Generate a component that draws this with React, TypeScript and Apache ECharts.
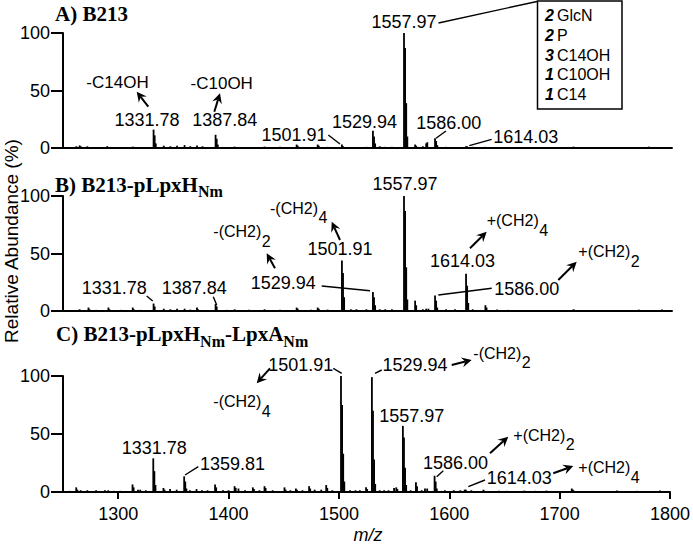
import React, { useEffect, useRef } from "react";
import * as echarts from "echarts";

// ---------- DATA ----------
const xTickValues = [1300, 1400, 1500, 1600, 1700, 1800];
const xMin = 1250;
const xMax = 1800;

// [m/z, relative abundance %]
const peaksA: [number, number][] = [
  [1256, 0.8], [1262, 1.5], [1265, 2.2], [1266, 1.5], [1272, 1.5], [1280, 0.8], [1290, 1.6], [1301, 0.8],
  [1313, 1.2], [1320, 0.8], [1331.8, 16], [1332.8, 11], [1333.8, 4], [1341, 2], [1347, 1.5], [1353, 2],
  [1359.8, 2.5], [1365, 1.5], [1371, 2.2], [1376, 1.5], [1387.8, 11.5], [1388.8, 8], [1389.8, 3], [1398, 0.8],
  [1405, 1.2], [1418, 0.8], [1432, 1.2], [1446, 1], [1461, 3], [1462, 2], [1474, 0.8], [1480, 3], [1481, 2],
  [1489, 1], [1501.9, 3], [1502.9, 1.5], [1515, 0.8], [1524, 1], [1529.9, 15], [1530.9, 10], [1531.9, 4],
  [1536, 1.5], [1541, 1], [1547, 1], [1557.97, 100], [1558.97, 87], [1559.97, 39], [1560.97, 10],
  [1568, 3], [1569, 2], [1575, 1.5], [1578, 4], [1579, 5], [1586, 8.5], [1587, 6], [1588, 2.5], [1596, 1],
  [1604, 0.8], [1614, 1.5], [1615, 1.5], [1620, 1], [1631, 1], [1645, 0.6], [1660, 0.6], [1680, 0.6],
  [1711, 1.2], [1712, 0.8], [1740, 0.5], [1760, 0.5], [1779, 1.2], [1790, 0.5],
];

const peaksB: [number, number][] = [
  [1256, 0.8], [1265, 1.5], [1273, 3], [1274, 1.5], [1280, 1], [1291, 3], [1292, 1.5], [1302, 1], [1313, 3],
  [1314, 1.5], [1320, 1], [1331.8, 6.5], [1332.8, 4], [1341, 2], [1347, 1.5], [1353, 2], [1359.8, 2],
  [1365, 1.2], [1371, 3], [1372, 1.5], [1387.8, 6], [1388.8, 4], [1398, 1], [1405, 1.5], [1418, 1],
  [1432, 1.5], [1446, 1], [1461, 3], [1462, 2], [1474, 1], [1480, 3], [1481, 2], [1489, 1.2],
  [1501.9, 44], [1502.9, 33], [1503.9, 12], [1510, 1.5], [1515, 1.5], [1524, 1.5], [1529.9, 16.5],
  [1530.9, 12], [1531.9, 5], [1536, 1.5], [1541, 1.5], [1547, 1.5], [1557.97, 100], [1558.97, 87],
  [1559.97, 38], [1560.97, 10], [1568, 9], [1569, 5], [1575, 1.5], [1578, 2], [1580, 2], [1586, 13.5],
  [1587, 9], [1588, 3], [1596, 1.5], [1604, 1.5], [1614, 32.5], [1615, 22], [1616, 7], [1620, 1.5],
  [1631.5, 5], [1632.5, 3], [1642, 1.2], [1652, 1], [1660, 0.8], [1680, 0.8], [1711, 1.5], [1712, 1],
  [1740, 0.6], [1770, 1.2], [1779, 0.8], [1791, 1.2],
];

const peaksC: [number, number][] = [
  [1256, 1], [1262, 4], [1263, 2], [1266, 1.5], [1272, 1.5], [1280, 1.5], [1288, 1.5], [1291, 1.5],
  [1296, 1], [1302, 1], [1313, 6.5], [1314, 4], [1318, 2], [1320, 2], [1325, 1.5], [1331.8, 29],
  [1332.8, 18], [1333.8, 6], [1341, 3.5], [1342, 2], [1347, 2.5], [1353, 2], [1359.8, 13.5], [1360.8, 9],
  [1361.8, 3], [1365, 1.5], [1371, 2.5], [1376, 1.5], [1381, 1.5], [1387.8, 6.5], [1388.8, 4], [1395, 1.5],
  [1400, 1.5], [1405.5, 5], [1406.5, 3.5], [1409, 3], [1415, 1.5], [1422, 4], [1423, 2.5], [1428, 1.5],
  [1432.6, 5], [1433.6, 3.5], [1440, 1.5], [1450.7, 4], [1451.7, 2], [1456, 1.5], [1461, 3], [1462, 2],
  [1467, 1.5], [1473, 5], [1474, 3], [1478, 2], [1484, 2], [1488.5, 6], [1489.5, 3.5], [1494, 1.5],
  [1501.9, 100], [1502.9, 75], [1503.9, 33], [1504.9, 9], [1510, 1.5], [1515, 1.5], [1519, 1.5],
  [1524.6, 4], [1525.6, 2.5], [1529.9, 99], [1530.9, 70], [1531.9, 28], [1532.9, 7], [1537, 1.5],
  [1541, 1.5], [1545, 1.5], [1550, 3.5], [1552, 4], [1553, 2.5], [1557.97, 57], [1558.97, 47],
  [1559.97, 21], [1560.97, 6], [1565, 1.5], [1569.8, 8.5], [1570.8, 5], [1575, 1.5], [1578, 3], [1580, 3],
  [1586.7, 14], [1587.7, 9], [1588.7, 3], [1596, 1.5], [1604, 1.5], [1610, 1.5], [1614, 2], [1615, 2],
  [1620, 1.5], [1631, 2], [1632, 1], [1645, 1], [1652, 1], [1668, 1.2], [1678, 1], [1688, 1.2],
  [1711, 3], [1712, 2], [1713, 1], [1730, 0.8], [1752, 1.2], [1770, 1], [1779, 0.8], [1791, 1.2],
];

const legendCounts = ["2", "2", "3", "1", "1"];
const legendNames = ["GlcN", "P", "C14OH", "C10OH", "C14"];

// ---------- HELPERS ----------
const SANS = '"Liberation Sans", Arial, Helvetica, sans-serif';
const SERIF = '"Liberation Serif", "Times New Roman", serif';

let measureCtx: CanvasRenderingContext2D | null = null;
function textWidth(text: string, font: string) {
  if (!measureCtx) measureCtx = document.createElement("canvas").getContext("2d");
  if (!measureCtx) return text.length * 9;
  measureCtx.font = font;
  return measureCtx.measureText(text).width;
}

function txt(x: number, y: number, text: string, size = 18, align = "center", font?: string) {
  return {
    type: "text",
    x,
    y,
    z: 10,
    style: {
      text,
      font: font || `${size}px ${SANS}`,
      fill: "#000",
      textAlign: align,
      textVerticalAlign: "middle",
    },
  };
}

function seg(x1: number, y1: number, x2: number, y2: number, w = 1.4) {
  return {
    type: "line",
    z: 10,
    shape: { x1, y1, x2, y2 },
    style: { stroke: "#000", lineWidth: w },
  };
}

function arrow(x1: number, y1: number, x2: number, y2: number) {
  const dx = x2 - x1;
  const dy = y2 - y1;
  const L = Math.hypot(dx, dy);
  const ux = dx / L;
  const uy = dy / L;
  const h = 10;
  const w = 5;
  const bx = x2 - ux * h;
  const by = y2 - uy * h;
  const nx = x2 - ux * h * 0.65;
  const ny = y2 - uy * h * 0.65;
  const px = -uy;
  const py = ux;
  return [
    seg(x1, y1, nx, ny, 2),
    {
      type: "polygon",
      z: 10,
      shape: {
        points: [
          [x2, y2],
          [bx + px * w, by + py * w],
          [nx, ny],
          [bx - px * w, by - py * w],
        ],
      },
      style: { fill: "#000" },
    },
  ];
}

// label with subscript, e.g. -(CH2)4
const ANN = 16;
function subLabel(x: number, y: number, main: string, sub: string) {
  const f = `${ANN}px ${SANS}`;
  const w = textWidth(main, f);
  return [txt(x, y, main, ANN, "left"), txt(x + w + 0.5, y + 9.5, sub, ANN, "left")];
}

const grids = [
  { left: 63, width: 609, top: 33, height: 115 },
  { left: 63, width: 609, top: 196, height: 115 },
  { left: 63, width: 609, top: 376, height: 116 },
];

function buildOption() {
  const xAxes = grids.map((_, i) => ({
    type: "value",
    gridIndex: i,
    min: xMin,
    max: xMax,
    splitLine: { show: false },
    axisLine: { show: true, onZero: false, lineStyle: { color: "#000", width: 2 } },
    axisTick:
      i === 2
        ? { show: true, length: 7, lineStyle: { color: "#000", width: 2 }, customValues: xTickValues }
        : { show: false },
    axisLabel:
      i === 2
        ? {
            show: true,
            customValues: xTickValues,
            fontSize: 18,
            fontFamily: SANS,
            color: "#000",
            margin: 13,
            formatter: (v: number) => String(v),
          }
        : { show: false },
  }));
  const yAxes = grids.map((_, i) => ({
    type: "value",
    gridIndex: i,
    min: 0,
    max: 100,
    interval: 50,
    splitLine: { show: false },
    axisLine: { show: true, onZero: false, lineStyle: { color: "#000", width: 2 } },
    axisTick: { show: true, length: 12, lineStyle: { color: "#000", width: 2 } },
    axisLabel: { fontSize: 18, fontFamily: SANS, color: "#000", margin: 13 },
  }));
  const series = [peaksA, peaksB, peaksC].map((p, i) => ({
    type: "bar",
    xAxisIndex: i,
    yAxisIndex: i,
    data: p.map((d) => [d[0], d[1]]),
    barWidth: 1.8,
    itemStyle: { color: "#000" },
    silent: true,
  }));

  const g: any[] = [];
  // Titles
  const tfont = `bold 21px ${SERIF}`;
  const sfont = `bold 16px ${SERIF}`;
  g.push(txt(55, 14, "A) B213", 21, "left", tfont));
  const wB = textWidth("B) B213-pLpxH", tfont);
  g.push(txt(55, 185, "B) B213-pLpxH", 21, "left", tfont));
  g.push(txt(55 + wB, 191, "Nm", 16, "left", sfont));
  const wC1 = textWidth("C) B213-pLpxH", tfont);
  const wNm = textWidth("Nm", sfont);
  const wC2 = textWidth("-LpxA", tfont);
  g.push(txt(56, 334, "C) B213-pLpxH", 21, "left", tfont));
  g.push(txt(56 + wC1, 341.5, "Nm", 16, "left", sfont));
  g.push(txt(56 + wC1 + wNm, 334, "-LpxA", 21, "left", tfont));
  g.push(txt(56 + wC1 + wNm + wC2, 341.5, "Nm", 16, "left", sfont));

  // Axis names
  g.push({
    type: "text",
    x: 11,
    y: 241,
    rotation: Math.PI / 2,
    style: {
      text: "Relative Abundance (%)",
      font: `19px ${SANS}`,
      fill: "#000",
      textAlign: "center",
      textVerticalAlign: "middle",
    },
  });
  g.push(txt(368, 535, "m/z", 18, "center", `italic 18px ${SANS}`));

  // Composition box
  g.push({
    type: "rect",
    z: 9,
    shape: { x: 537.5, y: 1, width: 84.5, height: 108 },
    style: { fill: "#fff", stroke: "#000", lineWidth: 1.5 },
  });
  const ly = [15, 35, 55, 74.5, 94.5];
  legendCounts.forEach((c, i) => {
    g.push(txt(545, ly[i], c, 16, "left", `italic bold 16px ${SANS}`));
    g.push(txt(557, ly[i], legendNames[i], 16, "left"));
  });

  // Panel A annotations
  g.push(txt(404, 21.7, "1557.97"));
  g.push(seg(438.5, 23, 537, 1.5));
  g.push(txt(117.5, 82.5, "-C14OH", 17));
  g.push(...arrow(148.3, 106.7, 136.7, 91.7));
  g.push(txt(147, 119.7, "1331.78"));
  g.push(txt(221.7, 83, "-C10OH", 17));
  g.push(...arrow(214.3, 111.7, 220, 93.3));
  g.push(txt(224.7, 120, "1387.84"));
  g.push(txt(294, 135, "1501.91"));
  g.push(seg(328.3, 135, 340, 144));
  g.push(txt(364.5, 122, "1529.94"));
  g.push(txt(448.8, 122.5, "1586.00"));
  g.push(seg(446, 131, 436, 138.3));
  g.push(txt(525.8, 136.7, "1614.03"));
  g.push(seg(491.7, 139.3, 469.3, 145.7));

  // Panel B annotations
  g.push(txt(114.2, 288.3, "1331.78"));
  g.push(seg(146.7, 296, 152.7, 301));
  g.push(txt(194.2, 288.3, "1387.84"));
  g.push(seg(213.3, 296.7, 216.7, 305));
  g.push(...subLabel(213.3, 231.7, "-(CH2)", "2"));
  g.push(...arrow(275, 268.3, 266.7, 253.3));
  g.push(txt(283.3, 283.3, "1529.94"));
  g.push(seg(321.7, 286, 370, 290.7));
  g.push(...subLabel(270, 208.3, "-(CH2)", "4"));
  g.push(...arrow(340, 240, 331.7, 221.7));
  g.push(txt(340, 249, "1501.91"));
  g.push(txt(405, 184, "1557.97"));
  g.push(txt(462.5, 261, "1614.03"));
  g.push(...subLabel(486.7, 220.8, "+(CH2)", "4"));
  g.push(...arrow(470, 248.3, 486.7, 231.7));
  g.push(txt(526.7, 289.2, "1586.00"));
  g.push(seg(491.7, 288.3, 438.3, 295));
  g.push(...subLabel(578.3, 251.7, "+(CH2)", "2"));
  g.push(...arrow(558.3, 280, 576.7, 261.7));

  // Panel C annotations
  g.push(txt(300.8, 365, "1501.91"));
  g.push(seg(333.3, 368.3, 341.7, 373.3));
  g.push(...subLabel(213.3, 401.7, "-(CH2)", "4"));
  g.push(...arrow(270, 368.3, 256.7, 383.3));
  g.push(txt(154.2, 448.3, "1331.78"));
  g.push(txt(232.5, 464.2, "1359.81"));
  g.push(seg(198.3, 466.7, 185, 475));
  g.push(txt(415, 365, "1529.94"));
  g.push(seg(381.7, 370, 375, 373.3));
  g.push(...arrow(451.7, 365, 471.7, 360));
  g.push(...subLabel(473.3, 353.3, "-(CH2)", "2"));
  g.push(txt(411.7, 415.8, "1557.97"));
  g.push(...subLabel(513.3, 435, "+(CH2)", "2"));
  g.push(...arrow(490, 453.3, 508.3, 436.7));
  g.push(txt(455.5, 462.5, "1586.00"));
  g.push(seg(443.3, 470.7, 436.7, 476.7));
  g.push(txt(519.2, 478.3, "1614.03"));
  g.push(seg(485, 480, 468.3, 486.7));
  g.push(...arrow(553.3, 473.3, 573.3, 466));
  g.push(...subLabel(578.3, 467.5, "+(CH2)", "4"));

  return {
    animation: false,
    backgroundColor: "#fff",
    grid: grids,
    xAxis: xAxes,
    yAxis: yAxes,
    series,
    graphic: { elements: g },
  };
}

export default function App() {
  const ref = useRef<HTMLDivElement>(null);
  useEffect(() => {
    if (!ref.current) return;
    const chart = echarts.init(ref.current, undefined, { renderer: "svg" });
    chart.setOption(buildOption() as any);
    return () => chart.dispose();
  }, []);
  return (
    <div
      ref={ref}
      style={{ position: "absolute", left: 0, top: 0, width: 693, height: 546, background: "#fff" }}
    />
  );
}
